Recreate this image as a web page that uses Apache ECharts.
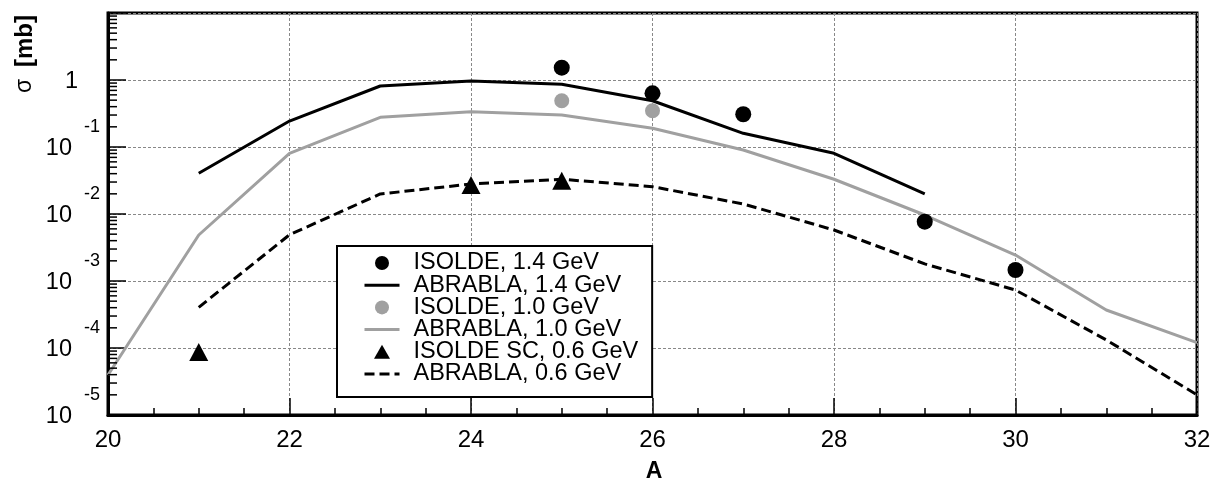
<!DOCTYPE html>
<html>
<head>
<meta charset="utf-8">
<script src="https://cdn.jsdelivr.net/npm/echarts@6/dist/echarts.min.js"></script>
<style>
html,body{margin:0;padding:0;background:#fff;}
#c{width:1223px;height:489px;}
</style>
</head>
<body>
<div id="c"></div>
<script>
// A values (mass number)
const A_ABR14 = [21, 22, 23, 24, 25, 26, 27, 28, 29];
const ABR14 = [0.0405, 0.244, 0.814, 0.966, 0.863, 0.49, 0.16, 0.0805, 0.0199];

const A_ABR10 = [20, 21, 22, 23, 24, 25, 26, 27, 28, 29, 30, 31, 32];
const ABR10 = [3.95e-5, 0.00486, 0.0805, 0.277, 0.336, 0.30, 0.19, 0.0902, 0.033, 0.00966, 0.00244, 0.000369, 0.00012];

const A_ABR06 = [21, 22, 23, 24, 25, 26, 27, 28, 29, 30, 31, 32];
const ABR06 = [0.000405, 0.0049, 0.0199, 0.028, 0.033, 0.0256, 0.0141, 0.00577, 0.0018, 0.000734, 0.000132, 2.0e-5];

const A_ISO14 = [25, 26, 27, 29, 30];
const ISO14 = [1.53, 0.633, 0.308, 0.00769, 0.00146];

const A_ISO10 = [25, 26];
const ISO10 = [0.49, 0.348];

const A_ISO06 = [21, 24, 25];
const ISO06 = [8.7e-5, 0.0271, 0.0314];

const X_TICKS = [20, 22, 24, 26, 28, 30, 32];
const Y_DECADES = [-5, -4, -3, -2, -1, 0, 1];
const MINOR_MANTISSA = [2, 3, 4, 5, 6, 7, 8, 9];

const names = ['ISOLDE, 1.4 GeV', 'ABRABLA, 1.4 GeV', 'ISOLDE, 1.0 GeV', 'ABRABLA, 1.0 GeV', 'ISOLDE SC, 0.6 GeV', 'ABRABLA, 0.6 GeV'];
const isLine = [false, true, false, true, false, true];

function pairs(xs, ys) { return xs.map((x, i) => [x, ys[i]]); }

const minorData = [];
Y_DECADES.slice(0, -1).forEach(k => MINOR_MANTISSA.forEach(m => minorData.push([X_TICKS[0], m * Math.pow(10, k)])));

const FONT = 'Liberation Sans, Arial, Helvetica, sans-serif';
const GREY = '#a0a0a0';
const TRI = 'path://M0,14L8,0L16,14Z';

function legendItem(n, i) {
  if (isLine[i]) return {name: n, itemStyle: {opacity: 0}, lineStyle: {width: 3}};
  if (n === names[4]) return {name: n, icon: TRI, symbolKeepAspect: true};
  return {name: n};
}

const chart = echarts.init(document.getElementById('c'), null, {renderer: 'canvas'});
chart.setOption({
  animation: false,
  backgroundColor: '#fff',
  textStyle: {fontFamily: FONT},
  grid: {left: 108, top: 13, right: 26, bottom: 74, show: true, borderColor: '#000', borderWidth: 3, backgroundColor: 'transparent'},
  xAxis: {
    type: 'value', min: 20, max: 32, interval: 2,
    axisLine: {show: true, lineStyle: {color: '#000', width: 3}},
    axisTick: {show: true, inside: true, length: 17, lineStyle: {color: '#000', width: 1.5}},
    minorTick: {show: true, splitNumber: 4, length: 7, lineStyle: {color: '#000', width: 1.5}},
    splitLine: {show: true, lineStyle: {color: '#888', type: [3, 2], width: 1}},
    axisLabel: {fontSize: 24, color: '#000', margin: 13, fontFamily: FONT}
  },
  yAxis: {
    type: 'log', logBase: 10, min: 1e-5, max: 10,
    axisLine: {show: true, lineStyle: {color: '#000', width: 3}},
    axisTick: {show: true, inside: true, length: 18, lineStyle: {color: '#000', width: 1.5}},
    minorTick: {show: false},
    splitLine: {show: true, lineStyle: {color: '#888', type: [3, 2], width: 1}},
    axisLabel: {
      margin: 8, color: '#000', fontFamily: FONT,
      padding: [0, 0, 18, 0],
      formatter: function (v) {
        const k = Math.round(Math.log10(v));
        if (k >= 1) return '';
        if (k === 0) return '{e| }\n{b|1}{s1|}';
        return '{e|' + k + '}\n{b|10}{sp|}';
      },
      rich: {
        e: {fontSize: 18, lineHeight: 22, color: '#000', fontFamily: FONT},
        b: {fontSize: 23.5, lineHeight: 22, color: '#000', fontFamily: FONT},
        sp: {width: 28, lineHeight: 22},
        s1: {width: 22, lineHeight: 22}
      }
    }
  },
  legend: {
    data: names.map(legendItem),
    orient: 'vertical',
    left: 337, top: 246,
    itemWidth: 35, itemHeight: 14, itemGap: -1.8,
    padding: [5, 14, 11, 26],
    backgroundColor: '#fff',
    borderColor: '#000', borderWidth: 2, borderRadius: 0,
    lineStyle: {width: 3},
    textStyle: {fontSize: 23.5, lineHeight: 21.7, color: '#000', fontFamily: FONT, padding: [0, 0, 0, 9]}
  },
  graphic: [
    {type: 'text', x: 654, y: 472, style: {text: 'A', font: 'bold 23px ' + FONT, fill: '#000', textAlign: 'center', textVerticalAlign: 'middle'}},
    {type: 'text', x: 25, y: 86, rotation: Math.PI / 2,
      style: {text: 'σ', font: '23px ' + FONT, fill: '#000', textAlign: 'center', textVerticalAlign: 'middle'}},
    {type: 'text', x: 25, y: 41, rotation: Math.PI / 2,
      style: {text: '[mb]', font: 'bold 24px ' + FONT, fill: '#000', textAlign: 'center', textVerticalAlign: 'middle'}}
  ],
  series: [
    {name: names[1], type: 'line', data: pairs(A_ABR14, ABR14), symbol: 'none', lineStyle: {color: '#000', width: 3}, itemStyle: {color: '#000'}, z: 2},
    {name: names[3], type: 'line', data: pairs(A_ABR10, ABR10), symbol: 'none', lineStyle: {color: GREY, width: 3}, itemStyle: {color: GREY}, z: 2},
    {name: names[5], type: 'line', data: pairs(A_ABR06, ABR06), symbol: 'none', lineStyle: {color: '#000', width: 3, type: [10, 5]}, itemStyle: {color: '#000'}, z: 2},
    {name: names[0], type: 'scatter', data: pairs(A_ISO14, ISO14), symbol: 'circle', symbolSize: 16, itemStyle: {color: '#000', opacity: 1}, z: 3},
    {name: names[2], type: 'scatter', data: pairs(A_ISO10, ISO10), symbol: 'circle', symbolSize: 15, itemStyle: {color: GREY, opacity: 1}, z: 3},
    {name: names[4], type: 'scatter', data: pairs(A_ISO06, ISO06), symbol: 'triangle', symbolSize: [19, 18], itemStyle: {color: '#000', opacity: 1}, z: 3},
    {name: 'minorY', type: 'custom', data: minorData, silent: true, z: 4, clip: false,
      encode: {x: 0, y: 1},
      renderItem: function (params, api) {
        const p = api.coord([api.value(0), api.value(1)]);
        return {type: 'line', shape: {x1: p[0], y1: p[1], x2: p[0] + 9, y2: p[1]}, style: {stroke: '#000', lineWidth: 1.5}};
      }}
  ]
});
</script>
</body>
</html>
